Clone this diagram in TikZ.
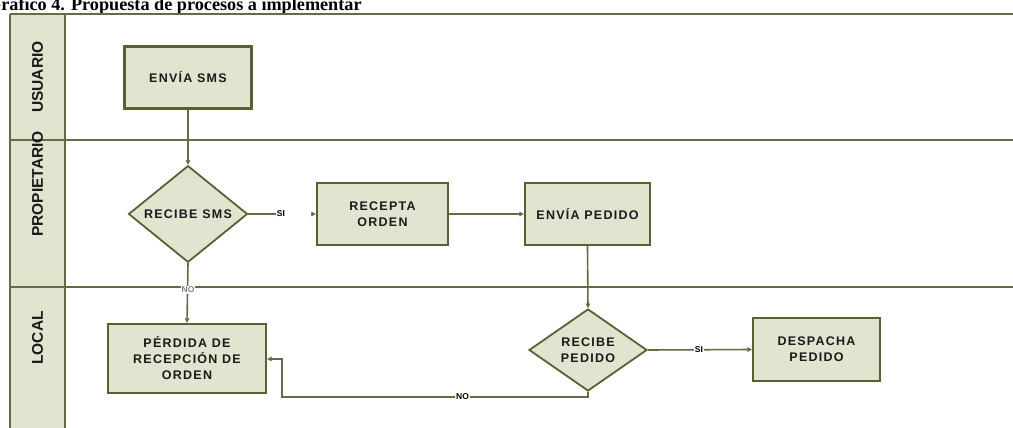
\documentclass[tikz,border=0pt]{standalone}
\usepackage{fontspec}
\setmainfont{Liberation Sans}
\newfontfamily\titlefont{Liberation Serif}
\newfontfamily\boxfont[LetterSpace=10]{Liberation Sans}
\usetikzlibrary{shapes.geometric,arrows.meta}
\definecolor{olive}{HTML}{596033}
\definecolor{laneline}{HTML}{646B45}
\definecolor{boxfill}{HTML}{E1E5CF}
\definecolor{txt}{HTML}{1A1A1A}
\tikzset{
  proc/.style={draw=olive, line width=2.2pt, fill=boxfill, rectangle, inner sep=0pt,
    align=center, text=txt, font=\boxfont\bfseries\fontsize{12.5}{16}\selectfont},
  decis/.style={draw=olive, line width=1.8pt, fill=boxfill, diamond, inner sep=0pt,
    align=center, text=txt, font=\boxfont\bfseries\fontsize{12.5}{16}\selectfont},
  conn/.style={draw=laneline, line width=1.6pt},
  arr/.style={conn, -{Triangle[length=4.5pt,width=4.5pt]}},
  lane/.style={draw=laneline, line width=2.6pt},
  lanelabel/.style={rotate=90, text=txt, font=\bfseries\fontsize{15.5}{18}\selectfont},
  small/.style={font=\bfseries\fontsize{8.5}{9}\selectfont, inner sep=1pt, fill=white}
}
\begin{document}
\begin{tikzpicture}[x=1pt,y=-1pt]
\useasboundingbox (0,0) rectangle (1013,428);
\clip (0,0) rectangle (1013,428);
\fill[white] (0,0) rectangle (1013,428);
% title
\node[anchor=base west, inner sep=0pt, font=\titlefont\bfseries\fontsize{18.2}{20}\selectfont] (title) at (-13,10.5) {Gráfico 4. Propuesta de procesos a implementar};
% lanes
\fill[boxfill] (10,14) rectangle (65,430);
\draw[lane] (10,14) -- (1015,14);
\draw[lane] (10,140) -- (1015,140);
\draw[lane] (10,287) -- (1015,287);
\draw[lane] (10,14) -- (10,430);
\draw[lane] (65,14) -- (65,430);
\node[lanelabel] (usuario) at (37.5,77) {USUARIO};
\node[lanelabel] (propietario) at (37.5,184) {PROPIETARIO};
\node[lanelabel] (local) at (37.5,338) {LOCAL};
% nodes
\node[proc, minimum width=127pt, minimum height=62pt] (enviasms) at (188,77.5) {ENVÍA SMS};
\node[decis, minimum width=119pt, minimum height=84pt] (recibesms) at (188,214) {RECIBE SMS};
\node[proc, minimum width=131pt, minimum height=62pt] (recepta) at (382.5,214) {RECEPTA\\ORDEN};
\node[proc, minimum width=125pt, minimum height=62pt] (enviapedido) at (587.5,214) {ENVÍA PEDIDO};
\node[proc, minimum width=158pt, minimum height=69pt] (perdida) at (187,358.5) {PÉRDIDA DE\\RECEPCIÓN DE\\ORDEN};
\node[decis, minimum width=118pt, minimum height=82pt] (recibepedido) at (588,350) {RECIBE\\PEDIDO};
\node[proc, minimum width=127pt, minimum height=63pt] (despacha) at (816.5,349.5) {DESPACHA\\PEDIDO};
% connectors
\draw[arr] (enviasms.south) -- (recibesms.north);
\node[small] (si1) at (281,214) {SI};
\draw[conn] (recibesms.east) -- (si1.west);
\coordinate (si1tip) at (311,214);
\draw[arr] (si1tip) -- (recepta.west);
\draw[arr] (recepta.east) -- (enviapedido.west);
\draw[arr] (enviapedido.south) -- (recibepedido.north);
\draw[arr] (recibesms.south) -- (perdida.north);
\node[font=\bfseries\fontsize{8.5}{9}\selectfont, text=gray, fill=white, inner sep=1pt] (no1) at (188,290) {NO};
\draw[arr] (recibepedido.east) -- node[small, pos=0.49] (si2) {SI} (despacha.west);
\coordinate (b1) at (588,397);
\coordinate (b2) at (282,397);
\coordinate (b3) at (282,359);
\draw[arr] (recibepedido.south) -- (b1) -- node[small, pos=0.41] (no2) {NO} (b2) -- (b3) -- (perdida.east |- b3);
\end{tikzpicture}
\end{document}
